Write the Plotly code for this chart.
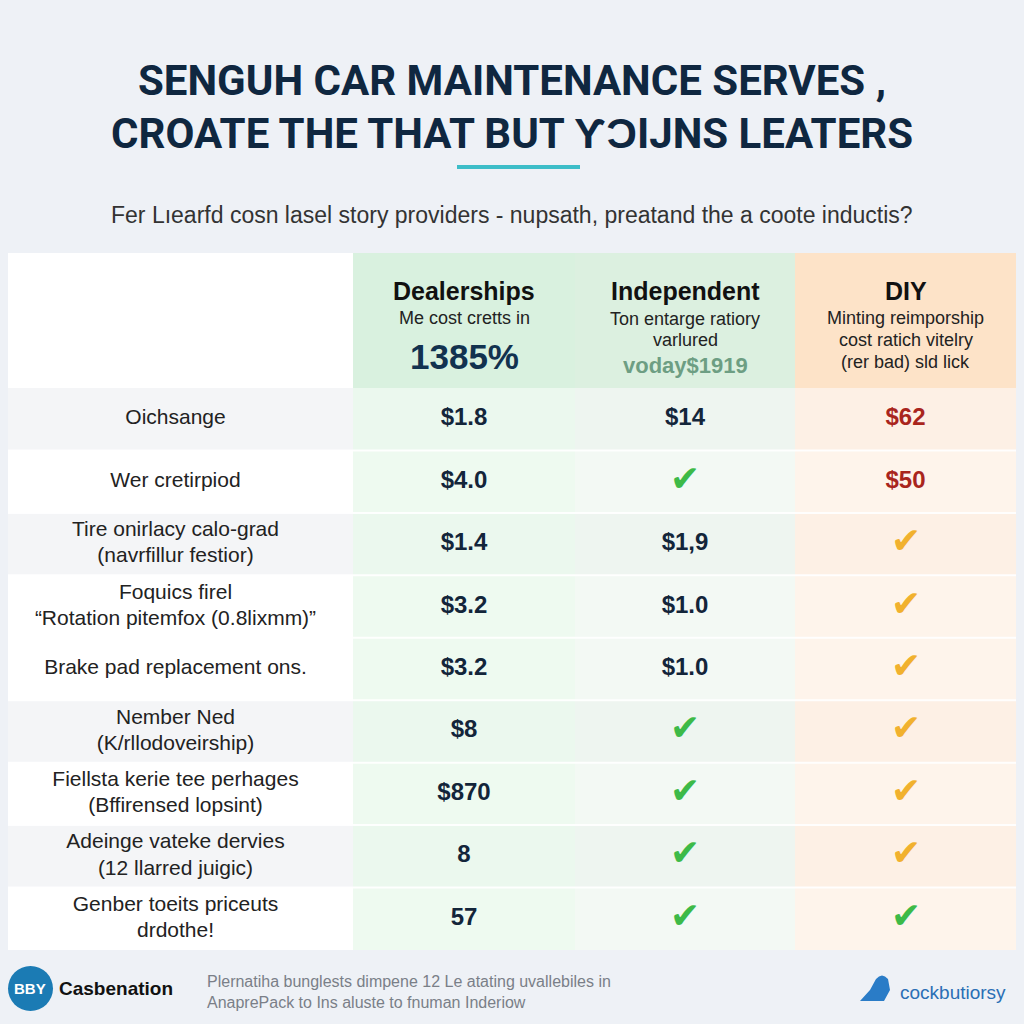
import plotly.graph_objects as go

# ---------------- data ----------------
title_lines = ["SENGUH CAR MAINTENANCE SERVES ,", "CROATE THE THAT BUT \u01b3\u0186IJNS LEATERS"]
subtitle = "Fer Lıearfd cosn lasel story providers - nupsath, preatand the a coote inductis?"

providers = ["Dealerships", "Independent", "DIY"]
provider_notes = [
    ["Me cost cretts in"],
    ["Ton entarge ratiory", "varlured"],
    ["Minting reimporship", "cost ratich vitelry", "(rer bad) sld lick"],
]
provider_highlight = ["1385%", "voday$1919", ""]

services = [
    "Oichsange",
    "Wer cretirpiod",
    "Tire onirlacy calo-grad<br>(navrfillur festior)",
    "Foquics firel<br>\u201cRotation pitemfox (0.8lixmm)\u201d",
    "Brake pad replacement ons.",
    "Nember Ned<br>(K/rllodoveirship)",
    "Fiellsta kerie tee perhages<br>(Bffirensed lopsint)",
    "Adeinge vateke dervies<br>(12 llarred juigic)",
    "Genber toeits priceuts<br>drdothe!",
]
dealership_vals = ["$1.8", "$4.0", "$1.4", "$3.2", "$3.2", "$8", "$870", "8", "57"]
independent_vals = ["$14", "CHECK", "$1,9", "$1.0", "$1.0", "CHECK", "CHECK", "CHECK", "CHECK"]
diy_vals = ["$62", "$50", "CHECK_O", "CHECK_O", "CHECK_O", "CHECK_O", "CHECK_O", "CHECK_O", "CHECK"]
row_shade = [1, 0, 1, 0, 0, 1, 0, 1, 0]

footer_brand = "Casbenation"
footer_badge = "BBY"
footer_note = ["Plernatiha bunglests dimpene 12 Le atating uvallebiles in",
               "AnaprePack to Ins aluste to fnuman Inderiow"]
footer_right = "cockbutiorsy"

# ---------------- layout constants ----------------
W = H = 1024
BG = "#eef1f6"
NAVY = "#0f2740"
col_edges = [8, 353, 575, 795, 1016]
table_top, header_bottom, table_bottom = 253, 388, 950
FONT = "Liberation Sans, Arial, sans-serif"
LINE_GAP = 0.21  # half spacing between label lines, in row units


def px(x):
    return x / W


def py(y):
    return 1 - y / H


n = len(services)
fig = go.Figure()

fig.update_layout(
    width=W, height=H, margin=dict(l=0, r=0, t=0, b=0),
    paper_bgcolor=BG, plot_bgcolor="rgba(0,0,0,0)", showlegend=False,
    xaxis=dict(range=[0, W], domain=[0, 1], visible=False, fixedrange=True),
    yaxis=dict(range=[n - 0.5, -0.5], domain=[py(table_bottom), py(header_bottom)],
               visible=False, fixedrange=True),
    font=dict(family=FONT),
)

shapes = []
shapes.append(dict(type="rect", xref="paper", yref="paper", x0=px(col_edges[0]), x1=px(col_edges[-1]),
                   y0=py(table_bottom), y1=py(table_top), fillcolor="white", line=dict(width=0), layer="below"))
shapes.append(dict(type="rect", xref="paper", yref="paper", x0=px(col_edges[1]), x1=px(col_edges[2]),
                   y0=py(header_bottom), y1=py(table_top), fillcolor="#d9f1df", line=dict(width=0), layer="below"))
shapes.append(dict(type="rect", xref="paper", yref="paper", x0=px(col_edges[2]), x1=px(col_edges[3]),
                   y0=py(header_bottom), y1=py(table_top), fillcolor="#dcf0e0", line=dict(width=0), layer="below"))
shapes.append(dict(type="rect", xref="paper", yref="paper", x0=px(col_edges[3]), x1=px(col_edges[4]),
                   y0=py(header_bottom), y1=py(table_top), fillcolor="#fde3c8", line=dict(width=0), layer="below"))

col_fill = [
    ["#ffffff", "#f4f5f7"],
    ["#eefaf0", "#ebf8ee"],
    ["#f3f9f4", "#eef5f0"],
    ["#fef4eb", "#fdf0e5"],
]
for i in range(n):
    for c in range(4):
        shapes.append(dict(type="rect", xref="x", yref="y", x0=col_edges[c], x1=col_edges[c + 1],
                           y0=i - 0.5, y1=i + 0.5, fillcolor=col_fill[c][row_shade[i]],
                           line=dict(width=0), layer="below"))
    if i > 0:
        shapes.append(dict(type="line", xref="x", yref="y", x0=col_edges[0], x1=col_edges[-1],
                           y0=i - 0.5, y1=i - 0.5, line=dict(color="rgba(255,255,255,0.9)", width=2),
                           layer="below"))

shapes.append(dict(type="line", xref="paper", yref="paper", x0=px(457), x1=px(580), y0=py(167), y1=py(167),
                   line=dict(color="#3dbdc8", width=4)))
shapes.append(dict(type="circle", xref="paper", yref="paper", x0=px(8), x1=px(53), y0=py(1011), y1=py(966),
                   fillcolor="#1b7bb4", line=dict(width=0)))
shapes.append(dict(type="path", xref="paper", yref="paper",
                   path=f"M {px(860)} {py(1001)} L {px(870)} {py(990)} L {px(876)} {py(979)} "
                        f"Q {px(882)} {py(972)} {px(888)} {py(979)} L {px(890)} {py(990)} "
                        f"L {px(884)} {py(1001)} Z",
                   fillcolor="#2a7cc7", line=dict(width=0)))
fig.update_layout(shapes=shapes)

centers = [(col_edges[c] + col_edges[c + 1]) / 2 for c in range(4)]

# row labels, line by line so the line spacing is tight
lab_y, lab_t = [], []
for i, s in enumerate(services):
    parts = s.split("<br>")
    k = len(parts)
    for j, p in enumerate(parts):
        lab_y.append(i + (j - (k - 1) / 2) * 2 * LINE_GAP)
        lab_t.append(p)
fig.add_trace(go.Scatter(x=[centers[0] - 5] * len(lab_t), y=lab_y, mode="text", text=lab_t,
                         textfont=dict(size=21, color="#222222", family=FONT), hoverinfo="skip"))


def cell_text(vals, value_color):
    texts, colors, sizes = [], [], []
    for v in vals:
        if v == "CHECK":
            texts.append("\u2714"); colors.append("#3dba48"); sizes.append(36)
        elif v == "CHECK_O":
            texts.append("\u2714"); colors.append("#f1b12e"); sizes.append(36)
        else:
            texts.append(f"<b>{v}</b>"); colors.append(value_color); sizes.append(24)
    return texts, colors, sizes


for c, (vals, colr) in enumerate([(dealership_vals, "#13253a"), (independent_vals, "#13253a"),
                                  (diy_vals, "#a9251d")], start=1):
    t, cl, sz = cell_text(vals, colr)
    fig.add_trace(go.Scatter(x=[centers[c]] * n, y=list(range(n)), mode="text", text=t,
                             textfont=dict(size=sz, color=cl, family=FONT), hoverinfo="skip"))

annotations = []


def ann(text, x, y, size, color, bold=False, family=FONT, xanchor="center"):
    annotations.append(dict(text=f"<b>{text}</b>" if bold else text, x=px(x), y=py(y), xref="paper",
                            yref="paper", showarrow=False, xanchor=xanchor, yanchor="middle",
                            font=dict(size=size, color=color, family=family)))


ann(title_lines[0], 512, 80, 42, NAVY, bold=True, family="Roboto, Arial, sans-serif")
ann(title_lines[1], 512, 133, 42, NAVY, bold=True, family="Roboto, Arial, sans-serif")
ann(subtitle, 512, 215, 23, "#333333")

head_ys = [[318], [319, 340], [318, 340, 362]]
for c in range(3):
    cx = centers[c + 1]
    ann(providers[c], cx, 291, 25, "#111111", bold=True)
    for line, yy in zip(provider_notes[c], head_ys[c]):
        ann(line, cx, yy, 18, "#222222")
ann(provider_highlight[0], centers[1], 356, 35, "#12324f", bold=True)
ann(provider_highlight[1], centers[2], 365, 22, "#6d9e83", bold=True)

ann(footer_badge, 30, 988, 15, "white", bold=True)
ann(footer_brand, 57, 988, 19, "#111111", bold=True, xanchor="left")
ann(footer_note[0], 205, 981, 16, "#7a7f88", xanchor="left")
ann(footer_note[1], 205, 1002, 16, "#7a7f88", xanchor="left")
ann(footer_right, 898, 992, 19, "#2a6fb5", xanchor="left")

fig.update_layout(annotations=annotations)

fig.write_html("out.html", config={"staticPlot": True},
               post_script="document.body.style.margin='0';document.body.style.overflow='hidden';")
